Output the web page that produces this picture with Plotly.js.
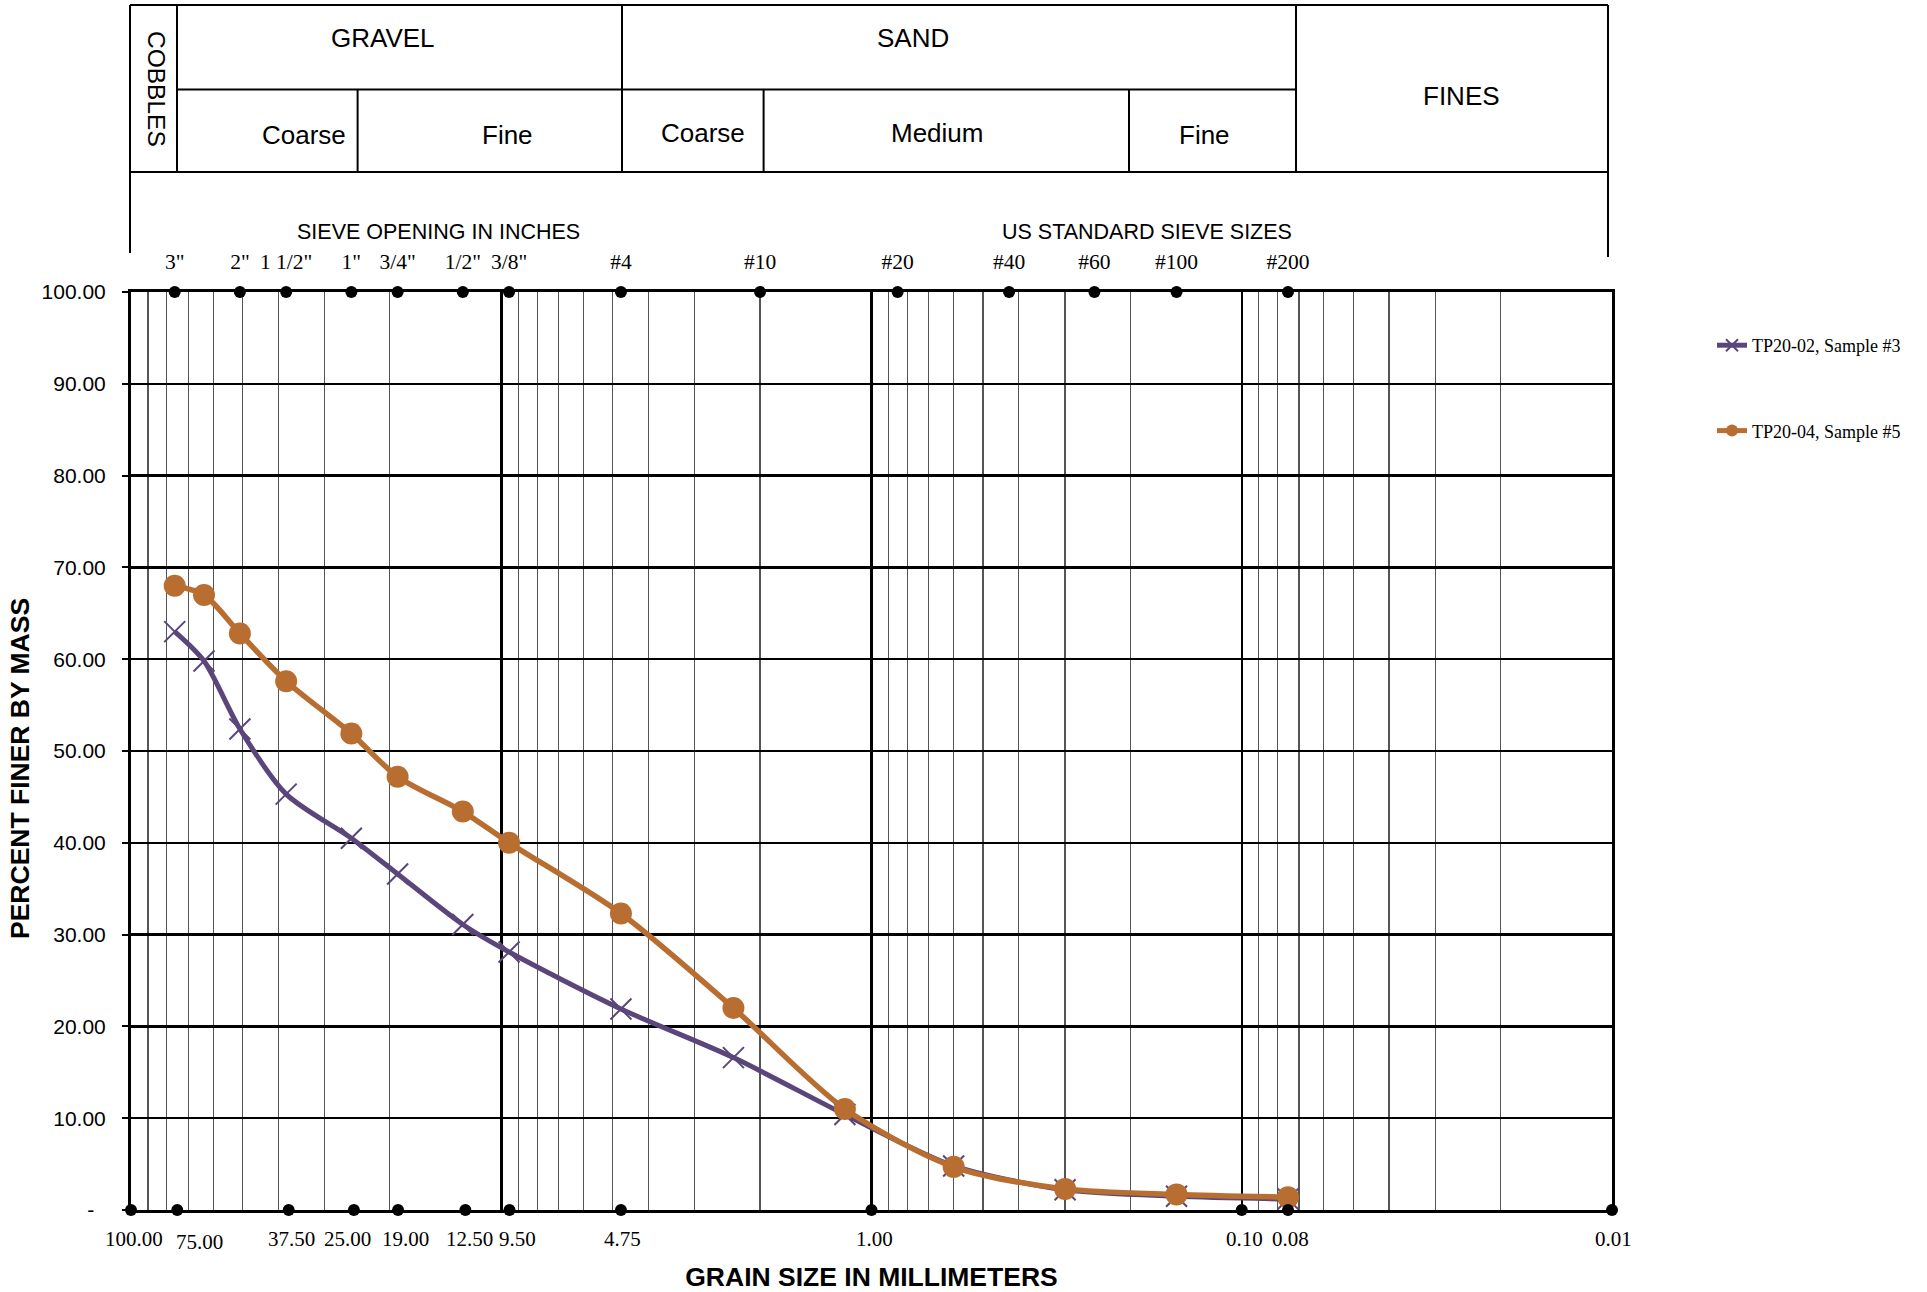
<!DOCTYPE html>
<html><head><meta charset="utf-8">
<script src="https://cdn.plot.ly/plotly-3.0.1.min.js"></script>
<style>html,body{margin:0;padding:0;background:#fff}#chart{width:1927px;height:1292px}</style>
</head><body><div id="chart"></div>
<script>
// ---- data ----
const sieveMM = [76.2, 63.5, 50.8, 38.1, 25.4, 19.05, 12.7, 9.525, 4.75, 2.36, 1.18, 0.6, 0.3, 0.15, 0.075];
const tp2002 = [63.0, 59.8, 52.4, 45.3, 40.5, 36.6, 31.1, 28.1, 21.9, 16.6, 10.4, 4.8, 2.2, 1.5, 1.2];
const tp2004 = [68.0, 67.0, 62.8, 57.6, 51.9, 47.2, 43.4, 40.0, 32.3, 22.0, 11.0, 4.7, 2.3, 1.7, 1.4];
const seriesNames = ['TP20-02, Sample #3', 'TP20-04, Sample #5'];

const topSieveMM = [76.2, 50.8, 38.1, 25.4, 19.05, 12.7, 9.525, 4.75, 2.0, 0.85, 0.425, 0.25, 0.15, 0.075];
const topSieveLabels = ['3"', '2"', '1 1/2"', '1"', '3/4"', '1/2"', '3/8"', '#4', '#10', '#20', '#40', '#60', '#100', '#200'];
const bottomTickMM = [100, 75, 37.5, 25, 19, 12.5, 9.5, 4.75, 1, 0.1, 0.075, 0.01];
const bottomTickLabels = ['100.00', '75.00', '37.50', '25.00', '19.00', '12.50', '9.50', '4.75', '1.00', '0.10', '0.08', '0.01'];
const yTickVals = [0, 10, 20, 30, 40, 50, 60, 70, 80, 90, 100];
const yTickLabels = ['-\u00a0\u00a0', '10.00', '20.00', '30.00', '40.00', '50.00', '60.00', '70.00', '80.00', '90.00', '100.00'];
const decadeMM = [10, 1, 0.1];

// header soil classes
const headerTop = ['GRAVEL', 'SAND', 'FINES'];
const headerSub = ['Coarse', 'Fine', 'Coarse', 'Medium', 'Fine'];

// ---- style / layout geometry (pixels) ----
const L = 131, T = 292, W = 1481, H = 918;
const px = x => (x - L) / W;
const py = y => (T + H - y) / H;
// pixel nudges of the bottom size labels (as placed in the original sheet)
const bottomLabelDX = [3, 22, 3, -6, 7, 4.5, 8, 2, 2.5, 2.5, 2.5, 1];
const bottomLabelDY = [0, -3, 0, 0, 0, 0, 0, 0, 0, 0, 0, 0];

const minorGrid = [];
[10, 1, 0.1, 0.01].forEach(d => { for (let k = 2; k <= 9; k++) minorGrid.push(+(k * d).toPrecision(3)); });

const purple = '#5a467b';
const orange = '#b86e31';
const sans = 'Liberation Sans, Arial, sans-serif';
const serif = 'Liberation Serif, Times New Roman, serif';

const traces = [
  {
    x: sieveMM, y: tp2002, name: seriesNames[0], type: 'scatter', mode: 'lines+markers',
    line: {color: purple, width: 5, shape: 'spline', smoothing: 0.8},
    marker: {symbol: 'x-thin-open', size: 21, color: purple, line: {color: purple, width: 2}},
    legendgroup: 'a', xaxis: 'x', yaxis: 'y'
  },
  {
    x: sieveMM, y: tp2004, name: seriesNames[1], type: 'scatter', mode: 'lines+markers',
    line: {color: orange, width: 5.5, shape: 'spline', smoothing: 0.8},
    marker: {symbol: 'circle', size: 22, color: orange},
    legendgroup: 'b', xaxis: 'x', yaxis: 'y'
  },
  {
    x: topSieveMM, y: topSieveMM.map(() => 100), type: 'scatter', mode: 'markers',
    marker: {color: '#000', size: 12}, showlegend: false, cliponaxis: false, hoverinfo: 'skip',
    xaxis: 'x2', yaxis: 'y'
  },
  {
    x: bottomTickMM, y: bottomTickMM.map(() => 0), type: 'scatter', mode: 'markers',
    marker: {color: '#000', size: 12}, showlegend: false, cliponaxis: false, hoverinfo: 'skip',
    xaxis: 'x3', yaxis: 'y'
  }
];

const xRange = [Math.log10(100), Math.log10(0.01)];
const lineBlack = {color: '#000', width: 2};

const shapes = [
  [130, 5, 1608, 5], [130, 172, 1608, 172], [177, 89.5, 1296, 89.5],
  [130, 5, 130, 253], [1608, 5, 1608, 257],
  [177, 5, 177, 172], [622, 5, 622, 172], [1296, 5, 1296, 172],
  [357.6, 89.5, 357.6, 172], [763.6, 89.5, 763.6, 172], [1129, 89.5, 1129, 172]
].map(s => ({type: 'line', xref: 'paper', yref: 'paper', x0: px(s[0]), y0: py(s[1]), x1: px(s[2]), y1: py(s[3]), line: lineBlack, layer: 'above'}));

const hfont = {family: sans, size: 26, color: '#000'};
const ann = (text, x, y, extra) => Object.assign({text, xref: 'paper', yref: 'paper', x: px(x), y: py(y), showarrow: false, xanchor: 'center', yanchor: 'middle', font: hfont}, extra || {});

const annotations = [
  ann(headerTop[0], 383, 38), ann(headerTop[1], 913, 38), ann(headerTop[2], 1461, 96),
  ann(headerSub[0], 303.6, 135), ann(headerSub[1], 507.6, 135), ann(headerSub[2], 703, 133),
  ann(headerSub[3], 936.5, 133), ann(headerSub[4], 1204.5, 135),
  ann('COBBLES', 156, 89, {textangle: 90, font: {family: sans, size: 24.5, color: '#000'}}),
  ann('SIEVE OPENING IN INCHES', 438, 232, {font: {family: sans, size: 21.5, color: '#000'}}),
  ann('US STANDARD SIEVE SIZES', 1147, 232, {font: {family: sans, size: 21.5, color: '#000'}}),
  ann('PERCENT FINER BY MASS', 20, 769, {textangle: -90, font: {family: sans, size: 26.5, color: '#000', weight: 'bold'}})
];

// bottom grain-size labels, placed through the x axis scale
bottomTickMM.forEach((v, i) => {
  annotations.push({
    text: bottomTickLabels[i], xref: 'x', yref: 'paper', x: Math.log10(v), y: 0,
    xanchor: 'center', yanchor: 'middle', yshift: -28.5 + bottomLabelDY[i], xshift: bottomLabelDX[i],
    showarrow: false, font: {family: serif, size: 21, color: '#000'}
  });
});

const layout = {
  width: 1927, height: 1292,
  margin: {l: L, r: 1927 - L - W, t: T, b: 1292 - T - H, pad: 0},
  paper_bgcolor: '#fff', plot_bgcolor: '#fff',
  showlegend: true,
  legend: {
    x: px(1712), y: py(327), xanchor: 'left', yanchor: 'top',
    font: {family: serif, size: 18, color: '#000'},
    traceorder: 'grouped', tracegroupgap: 59, itemsizing: 'constant', bgcolor: 'rgba(0,0,0,0)'
  },
  xaxis: {
    type: 'log', range: xRange, tickmode: 'array', tickvals: bottomTickMM, ticktext: bottomTickLabels,
    showticklabels: false,
    ticks: '', showgrid: false, zeroline: false, tickangle: 0,
    showline: true, mirror: true, linecolor: '#000', linewidth: 3,
    minor: {tickmode: 'array', tickvals: minorGrid, showgrid: true, gridcolor: '#555', gridwidth: 1.2, ticks: ''},
    title: {text: 'GRAIN SIZE IN MILLIMETERS', standoff: 57,
      font: {family: sans, size: 26.5, color: '#000', weight: 'bold'}},
    automargin: false
  },
  xaxis2: {
    type: 'log', range: xRange, overlaying: 'x', side: 'top', anchor: 'y',
    tickmode: 'array', tickvals: topSieveMM, ticktext: topSieveLabels,
    ticks: '', showgrid: false, zeroline: false, showline: false, tickangle: 0,
    tickfont: {family: serif, size: 21.5, color: '#000'},
    ticklabelstandoff: 18, automargin: false
  },
  xaxis3: {
    type: 'log', range: xRange, overlaying: 'x', anchor: 'y',
    tickmode: 'array', tickvals: decadeMM, showticklabels: false,
    ticks: '', showgrid: true, gridcolor: '#000', gridwidth: 2.5, zeroline: false, showline: false,
    automargin: false
  },
  yaxis: {
    range: [0, 100], tickmode: 'array', tickvals: yTickVals, ticktext: yTickLabels,
    ticks: 'outside', ticklen: 6, tickwidth: 2, tickcolor: '#000',
    showgrid: true, gridcolor: '#000', gridwidth: 2.5, zeroline: false,
    showline: true, mirror: true, linecolor: '#000', linewidth: 3,
    tickfont: {family: sans, size: 21, color: '#000'},
    ticklabelstandoff: 12,
    automargin: false
  },
  shapes, annotations
};

Plotly.newPlot('chart', traces, layout, {staticPlot: true, displayModeBar: false});
</script>
</body></html>
